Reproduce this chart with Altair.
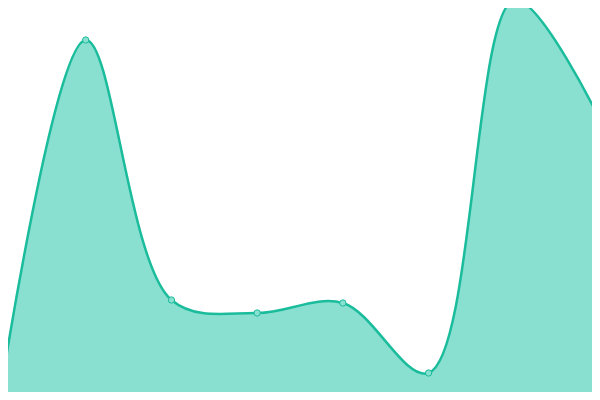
import altair as alt
import pandas as pd

idx = [0, 1, 2, 3, 4, 5, 6, 7]
values = [1, 90, 25, 21.75, 24.25, 6.75, 100, 70]

df = pd.DataFrame({"i": idx, "v": values})

x = alt.X("i:Q", axis=None, scale=alt.Scale(domain=[0, 7], nice=False, zero=False))
y = alt.Y("v:Q", axis=None, scale=alt.Scale(domain=[0, 100], nice=False))

base = alt.Chart(df).encode(x=x, y=y)

area = base.mark_area(interpolate="catmull-rom", color="#8ae0d0", opacity=1)
line = base.mark_line(interpolate="catmull-rom", color="#1abc9c", strokeWidth=2.5)
pts = base.mark_point(filled=True, fill="#8ae0d0", stroke="#1abc9c", strokeWidth=1, size=40, opacity=1)

chart = (area + line + pts).properties(
    width=600,
    height=400,
    autosize=alt.AutoSizeParams(type="none"),
    padding={"left": -8, "top": -8, "right": -8, "bottom": -8},
).configure_view(stroke=None)

chart.save("out.html", embed_options={"renderer": "svg", "actions": False})
